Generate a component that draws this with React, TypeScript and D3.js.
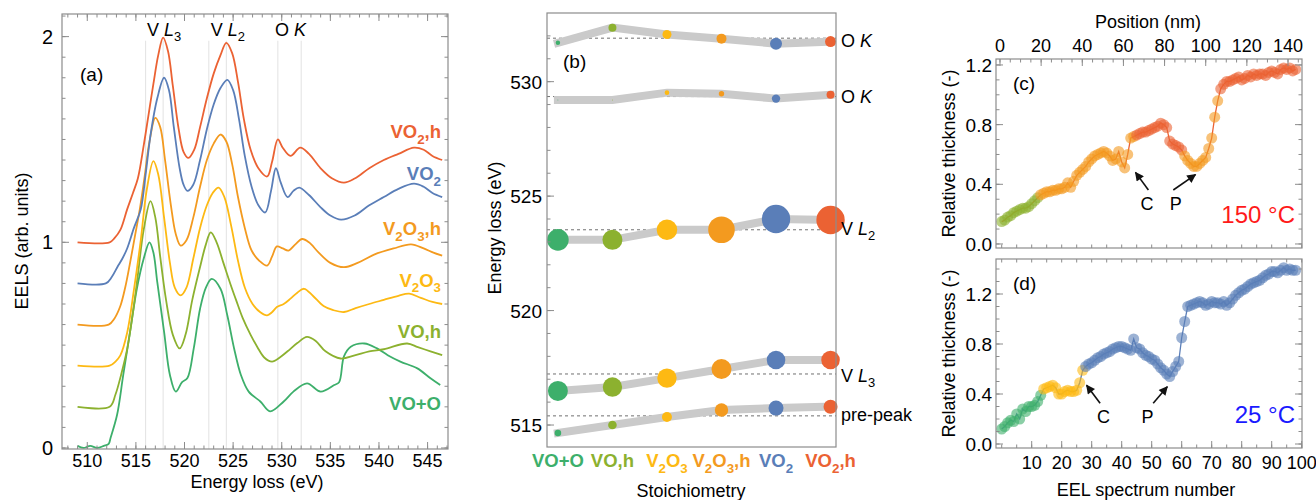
import React, { useEffect, useRef } from 'react';
import * as d3 from 'd3';

const W = 1316;
const H = 500;
const FONT = '"Liberation Sans", Arial, Helvetica, sans-serif';
const AXIS = '#8c8c8c';

// phases, same order in every panel
const phases = ['VO+O', 'VO,h', 'V_2O_3', 'V_2O_3,h', 'VO_2', 'VO_2,h'];
const phaseColors = ['#3daf6b', '#8cb12f', '#fdb913', '#f39a1f', '#5a7eb8', '#eb6233'];

// (a) EEL spectra: [energy loss (eV), EELS incl. vertical offset]
const specVOO = [
  [509.0, 0.01], [509.6, 0.0], [510.3, 0.01], [511.0, 0.0], [511.7, 0.01], [512.2, 0.02], [512.4, 0.05],
  [513.06, 0.16], [513.7, 0.355], [514.4, 0.565], [515.1, 0.774], [515.8, 0.92], [516.4, 1.0], [516.8, 0.95],
  [517.2, 0.806], [517.9, 0.565], [518.5, 0.355], [519.1, 0.274], [519.75, 0.32], [520.3, 0.34], [520.95, 0.484],
  [521.6, 0.677], [522.2, 0.78], [522.8, 0.822], [523.7, 0.774], [524.4, 0.645], [525.1, 0.484], [525.8, 0.355],
  [526.6, 0.274], [527.8, 0.226], [528.8, 0.178], [530.2, 0.226], [531.2, 0.274], [532.6, 0.314], [534.0, 0.274],
  [535.4, 0.306], [535.9, 0.32], [536.4, 0.445], [537.1, 0.492], [538.5, 0.508], [539.8, 0.484], [540.9, 0.451],
  [542.2, 0.42], [543.95, 0.387], [545.3, 0.339], [546.3, 0.306],
];
const specVOh = [
  [509, 0.2], [512.3, 0.2], [512.9, 0.26], [513.5, 0.36], [514.1, 0.48], [514.7, 0.66], [515.2, 0.84], [515.8, 1.06],
  [516.5, 1.2], [517.0, 1.12], [517.5, 0.93], [518.1, 0.72], [518.8, 0.55], [519.5, 0.484], [520.1, 0.55], [520.8, 0.72],
  [521.6, 0.88], [522.2, 0.99], [522.7, 1.048], [523.3, 1.0], [524.0, 0.9], [524.7, 0.8], [525.3, 0.72], [526.0, 0.63],
  [526.8, 0.55], [527.5, 0.49], [528.2, 0.44], [529.0, 0.42], [529.8, 0.44], [530.6, 0.47], [531.6, 0.51], [532.6, 0.54],
  [533.5, 0.52], [534.5, 0.47], [536.06, 0.435], [537.5, 0.45], [539.0, 0.47], [540.5, 0.48], [542.9, 0.508],
  [544.0, 0.49], [545.3, 0.47], [546.5, 0.451],
];
const specV2O3 = [
  [509, 0.4], [512.3, 0.4], [512.9, 0.42], [513.4, 0.45], [514.1, 0.56], [514.8, 0.77], [515.5, 1.01], [516.1, 1.25],
  [516.8, 1.395], [517.3, 1.33], [517.9, 1.12], [518.5, 0.9], [519.0, 0.78], [519.6, 0.742], [520.2, 0.78], [520.9, 0.92],
  [521.6, 1.07], [522.3, 1.18], [522.9, 1.24], [523.5, 1.266], [524.1, 1.22], [524.8, 1.08], [525.5, 0.91], [526.2, 0.78],
  [527.0, 0.7], [527.8, 0.66], [528.5, 0.645], [529.0, 0.66], [529.5, 0.685], [530.2, 0.7], [530.9, 0.726], [531.6, 0.755],
  [532.3, 0.774], [533.2, 0.74], [534.3, 0.69], [535.3, 0.67], [536.4, 0.661], [537.6, 0.68], [539.0, 0.7], [540.5, 0.72],
  [542.0, 0.74], [543.1, 0.75], [544.3, 0.73], [545.5, 0.71], [546.5, 0.7],
];
const specV2O3h = [
  [509, 0.6], [512.2, 0.6], [512.8, 0.63], [513.4, 0.69], [513.9, 0.78], [514.4, 0.9], [514.9, 1.03], [515.4, 1.16],
  [515.9, 1.32], [516.4, 1.49], [517.0, 1.605], [517.5, 1.56], [518.0, 1.4], [518.6, 1.18], [519.1, 1.04], [519.6, 0.984],
  [520.2, 1.01], [520.9, 1.12], [521.6, 1.27], [522.3, 1.4], [523.0, 1.48], [523.7, 1.524], [524.3, 1.49], [524.9, 1.38],
  [525.5, 1.22], [526.2, 1.07], [526.9, 0.96], [527.7, 0.91], [528.5, 0.887], [529.0, 0.93], [529.5, 0.98], [530.1, 0.97],
  [530.7, 0.96], [531.4, 0.99], [532.1, 1.016], [532.8, 1.0], [533.8, 0.95], [535.0, 0.9], [536.4, 0.879], [537.8, 0.9],
  [539.5, 0.94], [541.5, 0.97], [543.3, 0.99], [544.6, 0.97], [545.6, 0.95], [546.5, 0.935],
];
const specVO2 = [
  [509, 0.8], [511.9, 0.8], [512.5, 0.83], [513.1, 0.88], [513.6, 0.92], [514.1, 0.97], [514.8, 1.07], [515.5, 1.16],
  [516.0, 1.33], [516.5, 1.52], [517.2, 1.7], [517.9, 1.8], [518.4, 1.74], [518.9, 1.56], [519.5, 1.36], [519.9, 1.28],
  [520.3, 1.25], [520.9, 1.28], [521.6, 1.4], [522.3, 1.55], [523.0, 1.67], [523.7, 1.75], [524.4, 1.79], [525.0, 1.74],
  [525.6, 1.6], [526.2, 1.42], [526.9, 1.27], [527.6, 1.18], [528.3, 1.145], [528.9, 1.25], [529.4, 1.36], [529.9, 1.29],
  [530.6, 1.22], [531.2, 1.25], [531.8, 1.266], [532.8, 1.23], [534.0, 1.17], [535.0, 1.13], [536.1, 1.11], [537.5, 1.13],
  [539.0, 1.18], [540.5, 1.22], [542.0, 1.26], [543.6, 1.285], [544.6, 1.27], [545.5, 1.24], [546.5, 1.22],
];
const specVO2h = [
  [509, 1.0], [512.3, 1.0], [512.8, 1.02], [513.4, 1.06], [514.1, 1.16], [514.7, 1.24], [515.2, 1.31], [515.8, 1.47],
  [516.3, 1.62], [516.8, 1.77], [517.3, 1.91], [517.8, 1.995], [518.3, 1.93], [518.8, 1.76], [519.4, 1.55], [519.9, 1.44],
  [520.4, 1.41], [521.0, 1.45], [521.6, 1.56], [522.3, 1.7], [523.0, 1.82], [523.7, 1.91], [524.3, 1.97], [524.9, 1.92],
  [525.5, 1.78], [526.1, 1.6], [526.8, 1.45], [527.6, 1.36], [528.5, 1.32], [529.0, 1.39], [529.6, 1.5], [530.1, 1.46],
  [530.9, 1.42], [531.9, 1.46], [532.8, 1.43], [534.0, 1.36], [535.2, 1.31], [536.4, 1.29], [537.5, 1.31], [539.0, 1.36],
  [540.5, 1.4], [542.0, 1.43], [543.6, 1.46], [544.6, 1.45], [545.5, 1.42], [546.5, 1.4],
];
const spectra = [specVOO, specVOh, specV2O3, specV2O3h, specVO2, specVO2h];
const spectrumLabelY = [0.185, 0.535, 0.783, 1.035, 1.303, 1.507];
const edgeRefs = [516.0, 517.8, 522.5, 524.3, 529.6, 532.0];
const edgeNames = ['V *L*_3', 'V *L*_2', 'O *K*'];
const edgeNameAt = [517.9, 524.45, 530.9];

// (b) peak positions (eV) and relative peak intensity per phase
const peakOKHigh = [531.7, 532.36, 532.06, 531.88, 531.66, 531.75];
const peakOKLow = [529.2, 529.2, 529.52, 529.47, 529.26, 529.43];
const peakL2 = [523.09, 523.09, 523.53, 523.53, 524.0, 523.96];
const peakL3 = [516.49, 516.66, 517.05, 517.45, 517.84, 517.84];
const peakPre = [514.65, 515.0, 515.35, 515.66, 515.74, 515.8];
const intOKHigh = [0.022, 0.071, 0.09, 0.111, 0.16, 0.134];
const intOKLow = [0.001, 0.001, 0.024, 0.032, 0.078, 0.071];
const intL2 = [0.518, 0.444, 0.471, 0.786, 0.896, 0.896];
const intL3 = [0.444, 0.418, 0.418, 0.444, 0.384, 0.384];
const intPre = [0.048, 0.082, 0.111, 0.2, 0.25, 0.218];
const peakRefs = [531.9, 529.35, 523.53, 517.23, 515.4];
const peakNames = ['O *K*', 'O *K*', 'V *L*_2', 'V *L*_3', 'pre-peak'];

// (c) 150 °C and (d) 25 °C relative thickness per EEL spectrum
const cThickness = [
  0.15, 0.16, 0.18, 0.19, 0.21, 0.22, 0.23, 0.24, 0.24, 0.25, 0.27, 0.29, 0.31,
  0.33, 0.34, 0.35, 0.35, 0.36, 0.36, 0.37, 0.37, 0.38, 0.41, 0.38, 0.42, 0.46, 0.48, 0.5, 0.52, 0.55, 0.57,
  0.59, 0.6, 0.61, 0.62, 0.61, 0.59, 0.56, 0.57, 0.62, 0.55, 0.51, 0.6, 0.71, 0.72,
  0.73, 0.74, 0.75, 0.75, 0.76, 0.77, 0.78, 0.79, 0.81, 0.8, 0.78, 0.69, 0.67, 0.66, 0.65, 0.63,
  0.59, 0.56, 0.54, 0.52, 0.52, 0.54, 0.56, 0.58, 0.64, 0.71, 0.85, 0.96,
  1.04, 1.07, 1.09, 1.09, 1.1, 1.11, 1.12, 1.1, 1.11, 1.13, 1.12, 1.14, 1.13, 1.14, 1.14, 1.13, 1.15, 1.16,
  1.15, 1.14, 1.17, 1.18, 1.17, 1.18, 1.16, 1.17,
];
const cPhaseRuns = [[0, 12, 1], [13, 44, 3], [45, 60, 5], [61, 72, 3], [73, 98, 5]];
const dThickness = [
  0.12, 0.14, 0.17, 0.19, 0.18, 0.24, 0.2, 0.28, 0.26, 0.3, 0.3, 0.31, 0.34, 0.39,
  0.44, 0.45, 0.46, 0.47, 0.45, 0.4, 0.4, 0.42, 0.43, 0.42, 0.42, 0.43, 0.49, 0.59,
  0.62, 0.64, 0.65, 0.67, 0.69, 0.7, 0.72, 0.73, 0.74, 0.76, 0.77, 0.78, 0.78, 0.77, 0.76, 0.75, 0.84, 0.77,
  0.76, 0.73, 0.71, 0.7, 0.68, 0.67, 0.64, 0.61, 0.59, 0.56, 0.54, 0.58, 0.62, 0.66, 0.85, 0.98, 1.1, 1.11,
  1.12, 1.13, 1.14, 1.13, 1.11, 1.12, 1.14, 1.13, 1.13, 1.12, 1.14, 1.11, 1.13, 1.16, 1.19, 1.21, 1.23, 1.24,
  1.26, 1.28, 1.29, 1.3, 1.31, 1.33, 1.35, 1.36, 1.38, 1.38, 1.37, 1.39, 1.41, 1.39, 1.4, 1.39, 1.39,
];
const dPhaseRuns = [[0, 13, 0], [14, 27, 2], [28, 98, 4]];

// text with *italic* and _x subscripts
function richText(sel: any, str: string, fs: number) {
  const tokens: any[] = [];
  let cur = '';
  let italic = false;
  const flush = () => { if (cur) tokens.push({ s: cur, italic, sub: false }); cur = ''; };
  for (let i = 0; i < str.length; i++) {
    const ch = str[i];
    if (ch === '*') { flush(); italic = !italic; continue; }
    if (ch === '_') { flush(); tokens.push({ s: str[i + 1], italic, sub: true }); i++; continue; }
    cur += ch;
  }
  flush();
  let down = false;
  tokens.forEach(t => {
    const ts = sel.append('tspan').text(t.s);
    if (t.italic) ts.attr('font-style', 'italic');
    if (t.sub) {
      ts.attr('font-size', fs * 0.72);
      if (!down) ts.attr('dy', fs * 0.3);
      down = true;
    } else if (down) {
      ts.attr('dy', -fs * 0.3);
      down = false;
    }
  });
}

function frameTicks(g: any, box: any, side: string, scale: any, values: number[], len: number) {
  g.append('g').selectAll('line').data(values).join('line')
    .attr('x1', (d: number) => side === 'left' ? box.x0 : side === 'right' ? box.x1 : scale(d))
    .attr('x2', (d: number) => side === 'left' ? box.x0 + len : side === 'right' ? box.x1 - len : scale(d))
    .attr('y1', (d: number) => side === 'top' ? box.y0 : side === 'bottom' ? box.y1 : scale(d))
    .attr('y2', (d: number) => side === 'top' ? box.y0 + len : side === 'bottom' ? box.y1 - len : scale(d))
    .attr('stroke', AXIS).attr('stroke-width', 1);
}

function frame(g: any, box: any) {
  g.append('rect').attr('x', box.x0).attr('y', box.y0)
    .attr('width', box.x1 - box.x0).attr('height', box.y1 - box.y0)
    .attr('fill', 'none').attr('stroke', AXIS).attr('stroke-width', 1.2);
}

const inDomain = (s: any, vals: number[]) => {
  const [a, b] = s.domain();
  return vals.filter(v => v >= Math.min(a, b) - 1e-9 && v <= Math.max(a, b) + 1e-9);
};

function drawA(svg: any) {
  const box = { x0: 62, x1: 448, y0: 14, y1: 449 };
  const x = d3.scaleLinear().domain([507.4, 547.1]).range([box.x0, box.x1]);
  const y = d3.scaleLinear().domain([-0.005, 2.11]).range([box.y1, box.y0]);
  const g = svg.append('g');

  g.selectAll('.ref').data(edgeRefs).join('line')
    .attr('x1', (d: number) => x(d)).attr('x2', (d: number) => x(d))
    .attr('y1', y(1.98)).attr('y2', box.y1)
    .attr('stroke', '#e2e2e2').attr('stroke-width', 1);

  const line = d3.line().x((d: any) => x(d[0])).y((d: any) => y(d[1])).curve(d3.curveCatmullRom.alpha(0.5));
  spectra.forEach((s, i) => {
    g.append('path').datum(s).attr('d', line as any)
      .attr('fill', 'none').attr('stroke', phaseColors[i]).attr('stroke-width', 1.8)
      .attr('stroke-linejoin', 'round');
  });

  frame(g, box);
  const yMinor = inDomain(y, d3.range(0, 2.11, 0.1));
  frameTicks(g, box, 'left', y, yMinor, 3.5);
  frameTicks(g, box, 'right', y, yMinor, 3.5);
  frameTicks(g, box, 'left', y, [0, 1, 2], 7);
  frameTicks(g, box, 'right', y, [0, 1, 2], 7);
  const xMinor = d3.range(508, 548, 1);
  frameTicks(g, box, 'bottom', x, inDomain(x, xMinor), 3.5);
  frameTicks(g, box, 'top', x, inDomain(x, xMinor), 3.5);
  frameTicks(g, box, 'bottom', x, d3.range(510, 546, 5), 7);
  frameTicks(g, box, 'top', x, d3.range(510, 546, 5), 7);

  g.selectAll('.xt').data(d3.range(510, 546, 5)).join('text')
    .attr('x', (d: number) => x(d)).attr('y', 467).attr('text-anchor', 'middle')
    .attr('font-size', 18).text((d: number) => d);
  g.selectAll('.yt').data([0, 1, 2]).join('text')
    .attr('x', 53).attr('y', (d: number) => y(d) + 7).attr('text-anchor', 'end')
    .attr('font-size', 20).text((d: number) => d);

  g.append('text').attr('x', (box.x0 + box.x1) / 2 + 2).attr('y', 488).attr('text-anchor', 'middle')
    .attr('font-size', 18).text('Energy loss (eV)');
  g.append('text').attr('transform', 'translate(28,241) rotate(-90)').attr('text-anchor', 'middle')
    .attr('font-size', 18).text('EELS (arb. units)');
  g.append('text').attr('x', 80).attr('y', 81).attr('font-size', 19).text('(a)');

  edgeNames.forEach((n, i) => {
    const t = g.append('text').attr('x', x(edgeNameAt[i])).attr('y', 36).attr('text-anchor', 'middle')
      .attr('font-size', 18);
    richText(t, n, 18);
  });

  phases.forEach((p, i) => {
    const t = g.append('text').attr('x', 441).attr('y', y(spectrumLabelY[i])).attr('text-anchor', 'end')
      .attr('font-size', 18.5).attr('font-weight', 'bold').attr('fill', phaseColors[i]);
    richText(t, p, 18.5);
  });
}

function drawB(svg: any) {
  const box = { x0: 547, x1: 836, y0: 13, y1: 447 };
  const x = d3.scaleLinear().domain([-0.2, 5.1]).range([box.x0, box.x1]);
  const y = d3.scaleLinear().domain([514.04, 533.0]).range([box.y1, box.y0]);
  const r = d3.scaleSqrt().domain([0, 1]).range([0, 15]);
  const g = svg.append('g');

  g.selectAll('.dash').data(peakRefs).join('line')
    .attr('x1', box.x0).attr('x2', box.x1)
    .attr('y1', (d: number) => y(d)).attr('y2', (d: number) => y(d))
    .attr('stroke', '#707070').attr('stroke-width', 1).attr('stroke-dasharray', '3,3');

  const rows = [
    [peakOKHigh, intOKHigh], [peakOKLow, intOKLow], [peakL2, intL2], [peakL3, intL3], [peakPre, intPre],
  ];
  const band = d3.line().x((d: any, i: number) => x(i)).y((d: any) => y(d));
  rows.forEach(([e]) => {
    g.append('path').datum(e).attr('d', band as any).attr('fill', 'none')
      .attr('stroke', '#cacaca').attr('stroke-width', 8).attr('stroke-linecap', 'square');
  });
  rows.forEach(([e, w]) => {
    g.append('g').selectAll('circle').data(e).join('circle')
      .attr('cx', (d: number, i: number) => x(i)).attr('cy', (d: number) => y(d))
      .attr('r', (d: number, i: number) => r(w[i]))
      .attr('fill', (d: number, i: number) => phaseColors[i]);
  });

  frame(g, box);
  frameTicks(g, box, 'left', y, d3.range(515, 533, 1), 3.5);
  frameTicks(g, box, 'left', y, d3.range(515, 531, 5), 7);
  g.selectAll('.yt').data(d3.range(515, 531, 5)).join('text')
    .attr('x', 542).attr('y', (d: number) => y(d) + 7).attr('text-anchor', 'end')
    .attr('font-size', 19).text((d: number) => d);

  phases.forEach((p, i) => {
    const t = g.append('text').attr('x', x(i)).attr('y', 467).attr('text-anchor', 'middle')
      .attr('font-size', 18.5).attr('font-weight', 'bold').attr('fill', phaseColors[i]);
    richText(t, p, 18.5);
  });

  const labelDy = [9, 6.5, 5, 8, 5];
  peakNames.forEach((n, i) => {
    const t = g.append('text').attr('x', 841).attr('y', y(peakRefs[i]) + labelDy[i]).attr('font-size', 18);
    richText(t, n, 18);
  });

  g.append('text').attr('x', 691).attr('y', 497).attr('text-anchor', 'middle').attr('font-size', 18)
    .text('Stoichiometry');
  g.append('text').attr('transform', 'translate(500.5,228) rotate(-90)').attr('text-anchor', 'middle')
    .attr('font-size', 18).text('Energy loss (eV)');
  g.append('text').attr('x', 563).attr('y', 68).attr('font-size', 19).text('(b)');
}

function drawThickness(svg: any, box: any, yDomain: number[], values: number[], runs: number[][],
  lineColor: string, tag: string, temp: string, tempColor: string, arrows: any) {
  const x = d3.scaleLinear().domain([-1.9, 100.1]).range([box.x0, box.x1]);
  const y = d3.scaleLinear().domain(yDomain).range([box.y1, box.y0]);
  const g = svg.append('g');
  const pts = values.map((v, n) => ({ n, v, c: phaseColors[runs.find(r => n >= r[0] && n <= r[1])![2]] }));

  g.append('path').datum(pts)
    .attr('d', d3.line().x((d: any) => x(d.n)).y((d: any) => y(d.v)) as any)
    .attr('fill', 'none').attr('stroke', lineColor).attr('stroke-width', 1.3);
  g.append('g').selectAll('circle').data(pts).join('circle')
    .attr('cx', (d: any) => x(d.n)).attr('cy', (d: any) => y(d.v)).attr('r', 5.5)
    .attr('fill', (d: any) => d.c).attr('fill-opacity', 0.6);

  frame(g, box);
  const yMinor = inDomain(y, d3.range(0, 1.5, 0.1));
  const yMajor = [0, 0.4, 0.8, 1.2];
  frameTicks(g, box, 'left', y, yMinor, 3.5);
  frameTicks(g, box, 'right', y, yMinor, 3.5);
  frameTicks(g, box, 'left', y, yMajor, 7);
  frameTicks(g, box, 'right', y, yMajor, 7);
  g.selectAll('.yt').data(yMajor).join('text')
    .attr('x', 992).attr('y', (d: number) => y(d) + 7).attr('text-anchor', 'end')
    .attr('font-size', 19).text((d: number) => d3.format('.1f')(d));

  g.append('text').attr('transform', `translate(955,${(box.y0 + box.y1) / 2}) rotate(-90)`)
    .attr('text-anchor', 'middle').attr('font-size', 18).text('Relative thickness (-)');
  g.append('text').attr('x', box.x0 + 17).attr('y', box.y0 + 31).attr('font-size', 19).text(tag);
  g.append('text').attr('x', box.x1 - 7).attr('y', box.y1 - 25).attr('text-anchor', 'end')
    .attr('font-size', 24).attr('fill', tempColor).text(temp);

  arrows.forEach((a: any) => {
    g.append('line').attr('x1', x(a.tail[0])).attr('y1', y(a.tail[1]))
      .attr('x2', x(a.tip[0])).attr('y2', y(a.tip[1]))
      .attr('stroke', '#111').attr('stroke-width', 1.6).attr('marker-end', 'url(#arrowhead)');
    g.append('text').attr('x', x(a.label[0])).attr('y', y(a.label[1])).attr('text-anchor', 'middle')
      .attr('font-size', 18).text(a.name);
  });
  return x;
}

function drawCD(svg: any) {
  const boxC = { x0: 996, x1: 1302, y0: 59, y1: 248 };
  const boxD = { x0: 996, x1: 1302, y0: 259, y1: 448 };
  const xc = drawThickness(svg, boxC, [-0.027, 1.24], cThickness, cPhaseRuns, '#eb6233', '(c)', '150 °C', '#ff1a1a', [
    { name: 'C', tail: [48.9, 0.362], tip: [44.6, 0.48], label: [48.4, 0.228] },
    { name: 'P', tail: [57.2, 0.362], tip: [64.6, 0.465], label: [58.0, 0.228] },
  ]);
  const xd = drawThickness(svg, boxD, [-0.032, 1.48], dThickness, dPhaseRuns, '#5a7eb8', '(d)', '25 °C', '#1a1aff', [
    { name: 'C', tail: [32.8, 0.326], tip: [28.3, 0.47], label: [33.9, 0.168] },
    { name: 'P', tail: [50.5, 0.326], tip: [55.2, 0.458], label: [48.6, 0.168] },
  ]);

  const g = svg.append('g');
  // top axis of (c): position in nm
  const pos = d3.scaleLinear().domain([-1.94, 146.8]).range([boxC.x0, boxC.x1]);
  frameTicks(g, boxC, 'top', pos, d3.range(0, 146, 5), 3.5);
  frameTicks(g, boxC, 'top', pos, d3.range(0, 141, 20), 7);
  g.selectAll('.pt').data(d3.range(0, 141, 20)).join('text')
    .attr('x', (d: number) => pos(d)).attr('y', 52).attr('text-anchor', 'middle')
    .attr('font-size', 18).text((d: number) => d);
  g.append('text').attr('x', 1148).attr('y', 28).attr('text-anchor', 'middle').attr('font-size', 18)
    .text('Position (nm)');

  // spectrum number ticks
  frameTicks(g, boxC, 'bottom', xc, d3.range(0, 101, 5), 3.5);
  frameTicks(g, boxD, 'top', xd, d3.range(0, 101, 5), 3.5);
  frameTicks(g, boxD, 'bottom', xd, d3.range(0, 101, 5), 3.5);
  frameTicks(g, boxD, 'bottom', xd, d3.range(10, 101, 10), 7);
  g.selectAll('.nt').data(d3.range(10, 101, 10)).join('text')
    .attr('x', (d: number) => xd(d)).attr('y', 469).attr('text-anchor', 'middle')
    .attr('font-size', 18).text((d: number) => d);
  g.append('text').attr('x', 1146).attr('y', 496).attr('text-anchor', 'middle').attr('font-size', 18)
    .text('EEL spectrum number');
}

export default function App() {
  const svgRef = useRef<SVGSVGElement>(null);

  useEffect(() => {
    const svg = d3.select(svgRef.current);
    svg.selectAll('*').remove();
    svg.attr('width', W).attr('height', H).style('font-family', FONT).style('background', '#fff');

    svg.append('defs').append('marker')
      .attr('id', 'arrowhead').attr('viewBox', '0 0 10 10').attr('refX', 9).attr('refY', 5)
      .attr('markerWidth', 10).attr('markerHeight', 9).attr('markerUnits', 'userSpaceOnUse')
      .attr('orient', 'auto')
      .append('path').attr('d', 'M0,0L10,5L0,10Z').attr('fill', '#111');

    drawA(svg);
    drawB(svg);
    drawCD(svg);
  }, []);

  return (
    <div style={{ position: 'absolute', left: 0, top: 0 }}>
      <svg ref={svgRef}></svg>
    </div>
  );
}
